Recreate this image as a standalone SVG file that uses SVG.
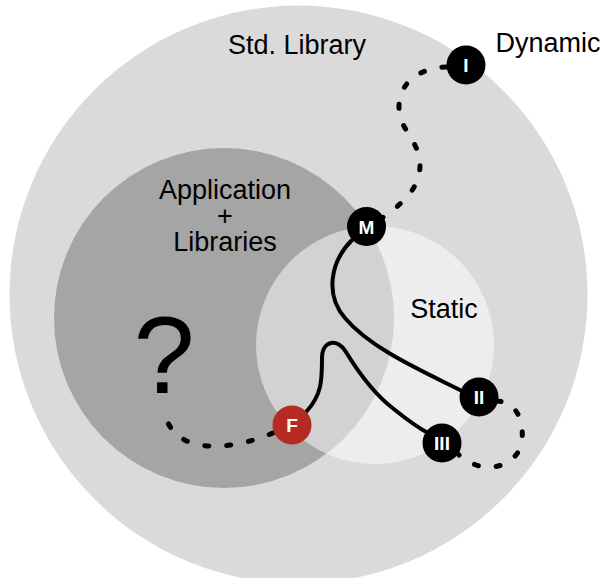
<svg xmlns="http://www.w3.org/2000/svg" width="603" height="578" viewBox="0 0 603 578">
<style>
.lbl{font-family:"Liberation Sans",Arial,sans-serif;font-size:27px;fill:#000;text-anchor:middle}
.nd{fill:#000}
.nt{font-family:"Liberation Sans",Arial,sans-serif;font-size:19px;font-weight:bold;fill:#fff;text-anchor:middle}
.solid{fill:none;stroke:#000;stroke-width:4;stroke-linecap:round}
.dash{fill:none;stroke:#000;stroke-width:5;stroke-linecap:round;stroke-dasharray:4 18}
</style>
<rect width="603" height="578" fill="#fff"/>
<g id="regions">
<circle id="stdlib" cx="298.5" cy="294.5" r="289" fill="#dadada"/>
<circle id="app" cx="224" cy="318" r="170" fill="#a5a5a5"/>
<circle id="static" cx="375" cy="345" r="119" fill="#fff" fill-opacity="0.5"/>
</g>
<g id="labels">
<text class="lbl" x="297" y="54">Std. Library</text>
<text class="lbl" x="548" y="52">Dynamic</text>
<text class="lbl" x="225" y="199">Application</text>
<text class="lbl" x="225" y="225">+</text>
<text class="lbl" x="225" y="251">Libraries</text>
<text class="lbl" x="444" y="318">Static</text>
<text class="lbl" x="164" y="393" style="font-size:110px">?</text>
</g>
<g id="connectors">
<path class="solid" d="M352 240 C330 262,325 295,345 318 C370 348,420 370,462 391"/>
<path class="solid" d="M306 412 C322 395,322 380,322 358 C322 340,338 338,346 352 C360 375,375 395,395 410 C405 418,415 426,428 433"/>
<path class="dash" d="M446 67 C420 68,400 82,399 105 C398 130,420 140,420 165 C420 190,400 205,382 218"/>
<path class="dash" d="M273 433 C240 447,200 452,180 437 C170 430,166 420,165 414"/>
<path class="dash" d="M497 401 C515 402,524 418,522 440 C520 462,495 472,476 465 C468 462,462 458,458 454"/>
</g>
<g id="node-I"><circle class="nd" cx="466" cy="65" r="19.5"/><text class="nt" x="466" y="72">I</text></g>
<g id="node-M"><circle class="nd" cx="366.5" cy="226.5" r="19.5"/><text class="nt" x="366.5" y="233.5">M</text></g>
<g id="node-F"><circle cx="292" cy="425" r="19.5" fill="#b52a22"/><text class="nt" x="292" y="432">F</text></g>
<g id="node-II"><circle class="nd" cx="479" cy="397" r="19.5"/><text class="nt" x="479" y="404">II</text></g>
<g id="node-III"><circle class="nd" cx="442" cy="443" r="19.5"/><text class="nt" x="442" y="450">III</text></g>
</svg>
